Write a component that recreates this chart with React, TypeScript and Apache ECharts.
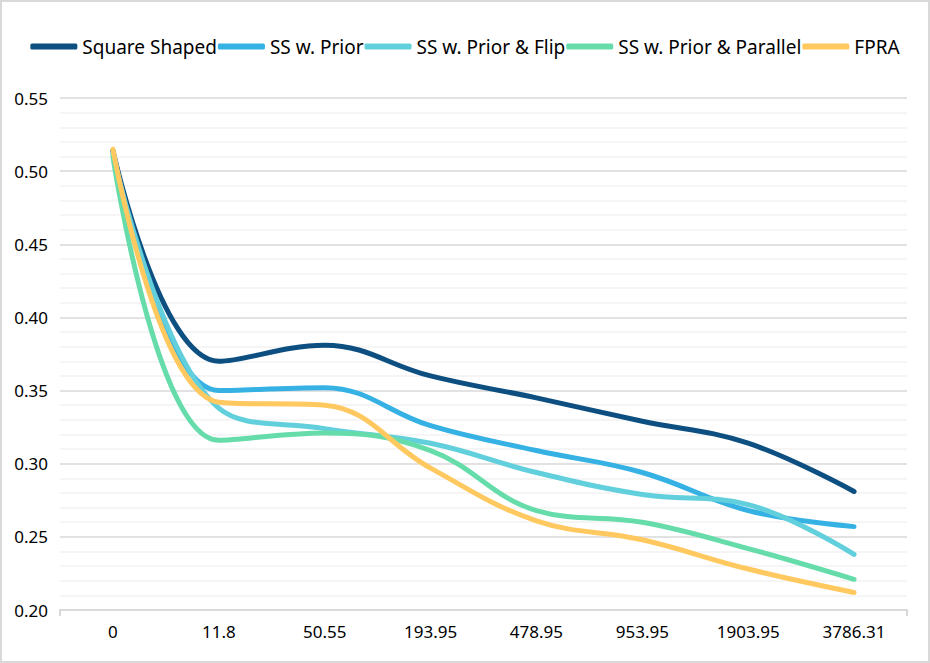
import React, { useEffect, useRef } from "react";
import * as echarts from "echarts";

const categories = ["0", "11.8", "50.55", "193.95", "478.95", "953.95", "1903.95", "3786.31"];
const seriesNames = ["Square Shaped", "SS w. Prior", "SS w. Prior & Flip", "SS w. Prior & Parallel", "FPRA"];
const squareShaped = [0.514, 0.370, 0.381, 0.360, 0.345, 0.329, 0.314, 0.281];
const ssPrior = [0.514, 0.350, 0.352, 0.326, 0.309, 0.294, 0.268, 0.257];
const ssPriorFlip = [0.512, 0.338, 0.324, 0.314, 0.294, 0.279, 0.272, 0.238];
const ssPriorParallel = [0.510, 0.316, 0.321, 0.309, 0.268, 0.260, 0.242, 0.221];
const fpra = [0.515, 0.342, 0.340, 0.297, 0.261, 0.248, 0.228, 0.212];
const colors = ["#0d4f80", "#35b1e4", "#62cfdc", "#66dcab", "#ffc960"];

export default function App() {
  const ref = useRef<HTMLDivElement>(null);
  useEffect(() => {
    document.body.style.margin = "0";
    const chart = echarts.init(ref.current!, null, { renderer: "svg" });
    const font = "'Noto Sans', sans-serif";
    const data = [squareShaped, ssPrior, ssPriorFlip, ssPriorParallel, fpra];
    chart.setOption({
      animation: false,
      color: colors,
      textStyle: { fontFamily: font },
      legend: {
        top: 32,
        left: "center",
        itemGap: 1,
        itemWidth: 47,
        itemHeight: 6,
        icon: "roundRect",
        textStyle: { fontSize: 19, color: "#000", fontFamily: font },
        data: seriesNames,
      },
      grid: { left: 60, right: 23, top: 98, bottom: 53 },
      xAxis: {
        type: "category",
        data: categories,
        boundaryGap: true,
        axisLine: { lineStyle: { color: "#d9d9d9", width: 2 } },
        axisTick: { show: true, length: 6, interval: (i: number) => i === 0, lineStyle: { color: "#d9d9d9", width: 2 } },
        axisLabel: { fontSize: 17, color: "#000", margin: 13, fontFamily: font },
      },
      yAxis: {
        type: "value",
        min: 0.2,
        max: 0.55,
        interval: 0.05,
        axisLine: { show: false },
        axisTick: { show: false },
        axisLabel: { fontSize: 17, color: "#000", margin: 12, fontFamily: font, formatter: (v: number) => v.toFixed(2) },
        splitLine: { lineStyle: { color: "#d9d9d9", width: 1.5 } },
        minorTick: { show: false, splitNumber: 5 },
        minorSplitLine: { show: true, lineStyle: { color: "#f2f2f2", width: 1.5 } },
      },
      series: seriesNames.map((name, i) => ({
        name,
        type: "line",
        data: data[i],
        smooth: 0.4,
        showSymbol: false,
        symbol: "none",
        lineStyle: { width: 5, cap: "round", join: "round", color: colors[i] },
        itemStyle: { color: colors[i] },
      })),
    });
    return () => chart.dispose();
  }, []);
  return (
    <div
      style={{
        position: "absolute",
        left: 0,
        top: 0,
        width: 930,
        height: 663,
        border: "2px solid #d9d9d9",
        boxSizing: "border-box",
        background: "#fff",
      }}
    >
      <div ref={ref} style={{ position: "absolute", left: -2, top: -2, width: 930, height: 663 }} />
    </div>
  );
}
